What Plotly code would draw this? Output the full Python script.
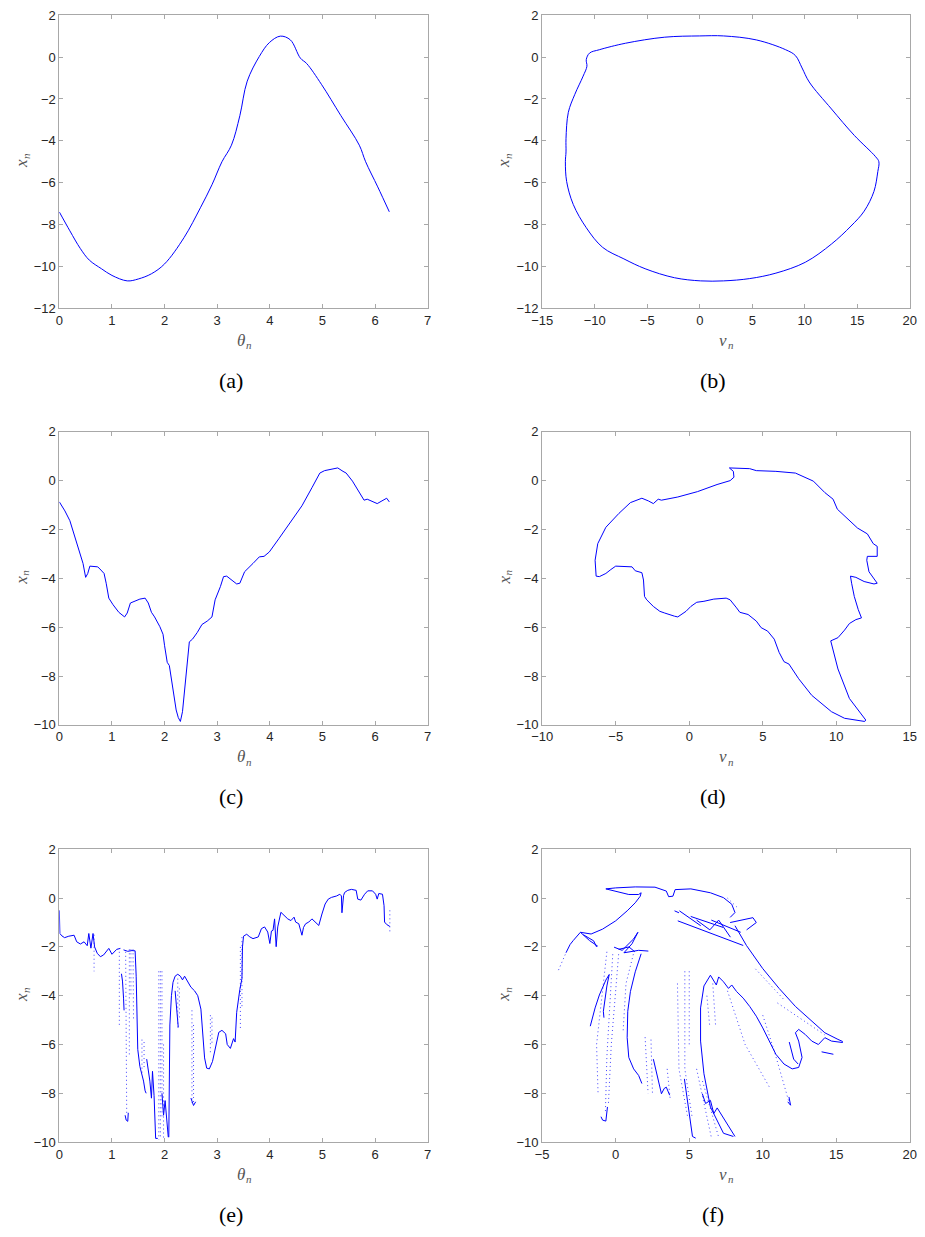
import plotly.graph_objects as go

# ---------------- data ----------------
# (a) x_n vs theta_n
theta_a = [0, 0.2, 0.4, 0.57, 0.8, 1.0, 1.29, 1.5, 1.75, 2.0, 2.37, 2.68, 2.9, 3.09, 3.27,
           3.43, 3.57, 3.8, 3.99, 4.2, 4.39, 4.58, 4.70, 4.98, 5.35, 5.70, 5.82, 6.05, 6.27]
x_a = [-7.4, -8.3, -9.15, -9.7, -10.11, -10.43, -10.69, -10.6, -10.35, -9.88, -8.62, -7.2, -6.1,
       -5.0, -4.21, -2.8, -1.15, 0.03, 0.69, 1.0, 0.82, -0.05, -0.31, -1.3, -2.8, -4.21, -5.0, -6.2, -7.39]

# (b) x_n vs v_n
v_b = [-10.49, -10.8, -10.74, -11.1, -11.89, -12.51, -12.73, -12.73, -12.79, -12.67, -12.04, -10.8,
       -9.24, -7.22, -5.2, -2.4, 0.09, 2.27, 4.76, 7.25, 10.05, 12.54, 14.4, 15.65, 16.58, 16.95,
       17.05, 16.74, 14.71, 12.54, 10.42, 9.74, 9.11, 8.18, 5.38, 2.27, 0.0, -3.33, -7.07, -9.56, -10.49]
x_b = [0.19, -0.12, -0.44, -0.91, -1.78, -2.64, -3.9, -4.53, -5.0, -5.94, -7.04, -8.15, -9.09, -9.64,
       -10.11, -10.54, -10.69, -10.69, -10.58, -10.32, -9.8, -8.93, -8.07, -7.36, -6.42, -5.47, -5.0,
       -4.76, -3.74, -2.48, -1.19, -0.52, 0.07, 0.35, 0.82, 1.01, 1.01, 0.95, 0.66, 0.35, 0.19]

# (c) x_n vs theta_n
theta_c = [0, 0.106, 0.2, 0.32, 0.45, 0.5, 0.54, 0.58, 0.66, 0.73, 0.79, 0.85, 0.89, 0.94, 1.02, 1.13,
           1.24, 1.29, 1.35, 1.44, 1.53, 1.63, 1.69, 1.75, 1.81, 1.91, 1.97, 2.0, 2.05, 2.09, 2.16, 2.22,
           2.26, 2.30, 2.34, 2.39, 2.43, 2.47, 2.53, 2.62, 2.71, 2.81, 2.9, 2.96, 3.06, 3.12, 3.18, 3.27,
           3.37, 3.43, 3.52, 3.68, 3.8, 3.89, 3.99, 4.17, 4.36, 4.61, 4.8, 4.95, 5.04, 5.17, 5.29, 5.39,
           5.45, 5.57, 5.7, 5.79, 5.85, 5.94, 6.04, 6.13, 6.22, 6.27]
x_c = [-0.87, -1.24, -1.64, -2.45, -3.39, -3.96, -3.8, -3.5, -3.53, -3.53, -3.66, -3.8, -4.2, -4.81,
       -5.08, -5.39, -5.58, -5.42, -5.01, -4.94, -4.85, -4.81, -5.01, -5.39, -5.58, -5.98, -6.29, -6.76,
       -7.44, -7.57, -8.52, -9.39, -9.7, -9.86, -9.46, -8.38, -7.3, -6.6, -6.49, -6.22, -5.89, -5.75,
       -5.58, -4.88, -4.34, -3.93, -3.91, -4.07, -4.23, -4.2, -3.73, -3.39, -3.12, -3.1, -2.92, -2.38,
       -1.78, -1.03, -0.29, 0.31, 0.41, 0.48, 0.52, 0.38, 0.31, -0.02, -0.49, -0.8, -0.76, -0.83, -0.94,
       -0.83, -0.72, -0.87]

# (d) x_n vs v_n
v_d = [2.73, 3.11, 4.11, 4.56, 5.89, 7.22, 8.44, 9.22, 9.78, 10.07, 10.78, 11.44, 12.11, 12.51, 12.78,
       12.78, 12.11, 12.07, 12.22, 12.44, 12.78, 12.56, 11.89, 11.33, 10.96, 11.04, 11.22, 11.49, 11.71,
       11.33, 10.89, 10.56, 10.11, 9.62, 10.11, 10.89, 12.0, 11.93, 10.56, 9.67, 8.33, 7.44, 6.78, 6.44,
       6.11, 5.78, 5.33, 4.89, 4.56, 4.0, 3.44, 3.22, 2.78, 2.51, 1.67, 1.0, 0.51, 0.11, -0.22, -0.78,
       -1.0, -1.67, -2.0, -2.44, -2.89, -3.04, -3.11, -3.22, -3.67, -3.89, -4.78, -5.0, -5.33, -5.67,
       -6.11, -6.33, -6.4, -6.22, -5.67, -4.78, -4.0, -3.22, -2.78, -2.44, -2.11, -1.89, -0.78, 0.56,
       1.89, 2.78, 3.04, 3.0, 2.73]
x_d = [0.52, 0.52, 0.49, 0.41, 0.38, 0.31, -0.02, -0.49, -0.76, -1.17, -1.57, -1.94, -2.18, -2.58,
       -2.69, -3.1, -3.1, -3.26, -3.73, -3.93, -4.2, -4.23, -4.13, -3.96, -3.91, -4.2, -4.74, -5.28,
       -5.62, -5.69, -5.85, -6.12, -6.43, -6.56, -7.71, -8.92, -9.8, -9.86, -9.73, -9.46, -8.79, -8.11,
       -7.51, -7.41, -7.03, -6.49, -6.16, -6.02, -5.75, -5.48, -5.39, -5.21, -4.88, -4.81, -4.85, -4.94,
       -4.98, -5.15, -5.35, -5.58, -5.55, -5.42, -5.35, -5.15, -4.88, -4.74, -4.07, -3.77, -3.69, -3.53,
       -3.53, -3.5, -3.64, -3.8, -3.93, -3.91, -3.26, -2.58, -1.91, -1.34, -0.9, -0.72, -0.83, -0.94,
       -0.76, -0.8, -0.67, -0.45, -0.16, 0.0, 0.14, 0.38, 0.52]

# (e) dense parts of the scattered set (None separates pieces)
theta_e = [0, 0.01, 0.05, 0.1, 0.18, 0.28, 0.33, 0.40, 0.47, 0.53, 0.56, 0.60, 0.64, 0.67, 0.72, 0.78,
           0.84, 0.9, 0.94, 1.0, 1.04, 1.09, 1.16, None,
           1.22, 1.3, 1.38, 1.44, 1.46, 1.47, 1.49, 1.53, 1.57, 1.6, 1.63, 1.65, None,
           1.66, 1.69, 1.72, 1.75, 1.77, 1.8, 1.82, 1.83, 1.87, None,
           1.18, 1.2, 1.22, 1.23, None,
           1.25, 1.27, 1.3, 1.31, None,
           2.08, 2.09, 2.1, 2.13, 2.16, 2.2, 2.25, 2.3, 2.34, 2.38, 2.44, 2.5, 2.57, 2.63, 2.69, 2.72, 2.76,
           2.8, 2.85, 2.91, 2.97, 3.03, 3.09, 3.16, 3.19, 3.25, 3.31, 3.34, 3.37, 3.40, 3.43, 3.47, 3.48,
           3.5, 3.56, 3.62, 3.68, 3.78, 3.84, 3.9, 3.96, 4.0, 4.03, 4.06, 4.09, 4.12, 4.15, 4.21, 4.27,
           4.34, 4.4, 4.46, 4.49, 4.55, 4.61, 4.64, 4.68, 4.74, 4.8, 4.86, 4.93, 4.99, 5.05, 5.11, 5.17,
           5.27, 5.33, 5.36, 5.37, 5.4, 5.42, 5.48, 5.55, 5.64, 5.67, 5.73, 5.8, 5.86, 5.95, 6.01, 6.04,
           6.07, 6.14, 6.17, 6.18, 6.22, 6.28, None,
           2.2, 2.22, 2.26, None,
           2.5, 2.55, 2.59, None,
           1.95, 1.98, 2.01, 2.04, 2.07]
x_e = [-0.5, -1.45, -1.55, -1.62, -1.56, -1.52, -1.79, -1.88, -1.79, -1.95, -1.45, -2.05, -1.45, -2.0,
       -2.26, -2.40, -2.33, -2.15, -2.06, -2.3, -2.2, -2.1, -2.06, None,
       -2.12, -2.18, -2.15, -2.16, -3.2, -4.6, -6.2, -6.9, -7.2, -7.5, -7.9, -8.0, None,
       -6.6, -7.0, -7.5, -8.2, -7.1, -8.1, -9.2, -9.85, -9.85, None,
       -3.1, -3.4, -4.1, -4.6, None,
       -8.9, -9.1, -9.15, -8.8, None,
       -9.8, -8.0, -5.2, -4.0, -3.45, -3.2, -3.12, -3.2, -3.35, -3.2, -3.4, -3.65, -3.8, -4.0, -4.55,
       -5.5, -6.55, -6.97, -7.0, -6.7, -6.1, -5.5, -5.42, -5.56, -6.0, -6.16, -5.76, -5.9, -4.68, -4.15,
       -3.74, -3.3, -2.0, -1.56, -1.48, -1.59, -1.66, -1.59, -1.25, -1.18, -1.39, -1.86, -1.35, -1.32,
       -0.85, -1.99, -1.18, -0.58, -0.71, -0.85, -0.92, -0.78, -0.98, -1.05, -1.52, -1.2, -1.05, -0.98,
       -0.85, -0.98, -1.12, -0.65, -0.24, -0.04, 0.03, 0.09, 0.16, 0.09, -0.6, 0.1, 0.23, 0.32, 0.36,
       0.32, -0.04, -0.08, 0.16, 0.3, 0.3, 0.16, -0.04, 0.19, 0.16, -0.31, -0.98, -1.08, -1.16, None,
       -3.8, -4.3, -5.3, None,
       -8.2, -8.5, -8.35, None,
       -8.0, -8.9, -8.3, -9.0, -9.8]

# (e) sparse streaks of points
theta_e_sp = [0.66, 0.66, None, 1.14, 1.14, None, 1.26, 1.28, None, 1.33, 1.33, None, 1.36, 1.36, None,
              1.40, 1.41, None, 1.57, 1.57, None, 1.61, 1.61, None, 1.89, 1.89, None, 1.92, 1.92, None,
              1.95, 1.95, None, 1.98, 1.98, None, 2.25, 2.25, None, 2.28, 2.28, None, 2.52, 2.52, None,
              2.55, 2.55, None, 2.87, 2.87, None, 2.9, 2.9, None, 3.44, 3.44, None, 3.47, 3.47, None,
              6.28, 6.28]
x_e_sp = [-1.5, -3.0, None, -2.2, -5.3, None, -2.2, -8.8, None, -2.1, -6.5, None, -2.1, -4.0, None,
          -2.1, -5.0, None, -5.8, -7.2, None, -5.9, -7.0, None, -3.0, -9.9, None, -3.0, -9.8, None,
          -3.0, -9.0, None, -6.0, -9.9, None, -3.3, -5.3, None, -3.7, -5.0, None, -4.6, -8.4, None,
          -5.2, -8.4, None, -4.8, -6.4, None, -4.9, -6.0, None, -2.0, -5.4, None, -1.6, -4.5, None,
          -0.5, -1.4]

# (f) dense parts of the scattered set
v_f = [-3.38, -3.1, -2.89, -2.4, -1.67, -0.89, 0.0, 0.78, 1.33, 1.67, 1.73, 1.56, 0.89, 0.44, -0.11,
       -0.67, 0.0, 1.33, 2.67, 3.44, 3.6, 3.89, 4.04, 5.11, 6.44, 7.33, 7.89, 8.11, 7.78, None,
       -2.4, -1.78, -1.22, None, -2.2, -1.5, -1.3, None,
       -0.11, 0.44, 1.22, 1.51, 1.11, 0.56, 1.56, 2.22, None, 0.2, 0.9, 1.3, None,
       -1.73, -1.4, -1.11, -0.67, -0.44, -0.6, -0.84, -0.8, None,
       -1.0, -0.89, -0.67, -0.56, None,
       1.73, 1.33, 1.0, 0.82, 0.78, 0.89, 1.22, 1.56, 1.78, None,
       2.56, 2.78, 3.11, 3.3, 3.44, 3.67, None,
       4.67, 4.89, 5.11, 5.22, 5.44, None,
       5.89, 6.11, 6.44, 6.67, 6.9, 7.3, 8.11, None,
       6.44, 6.0, 5.77, 5.77, 6.0, 6.44, 7.33, 8.0, None,
       6.44, 6.67, 6.84, 7.0, 7.33, 7.67, 7.89, 8.22, 8.67, 9.11, 9.56, 10.0, 10.44, 10.89, 11.44, 12.0,
       12.44, 12.67, 12.44, 12.22, 12.44, 12.89, 13.33, 13.78, 14.22, 14.67, 15.44, None,
       8.11, 8.89, 10.0, 11.11, 12.22, 13.33, 14.22, 15.11, 15.44, None,
       4.22, 8.67, None, 4.33, 5.78, None, 5.1, 7.3, None, 6.5, 8.5, None,
       7.78, 9.33, 9.56, 8.9, None, 4.0, 4.3, None, 5.5, 6.4, 7.0, 7.8, None,
       11.78, 11.89, 11.7, None, 14.0, 14.8, None, 11.8, 12.1, 12.4]
x_f = [-2.24, -1.9, -1.74, -1.4, -1.47, -1.27, -0.93, -0.52, -0.19, 0.08, 0.22, 0.15, 0.15, 0.22, 0.31,
       0.38, 0.42, 0.46, 0.45, 0.29, 0.06, 0.08, 0.35, 0.38, 0.22, 0.02, -0.25, -0.59, -0.79, None,
       -1.4, -1.74, -1.97, None, -1.5, -1.75, -2.0, None,
       -2.01, -2.14, -1.67, -1.4, -1.87, -2.24, -2.14, -2.17, None, -2.1, -2.0, -2.2, None,
       -5.25, -4.5, -3.97, -3.36, -3.13, -3.6, -4.64, -4.9, None,
       -8.96, -9.1, -9.14, -8.56, None,
       -2.28, -3.02, -3.83, -4.64, -5.72, -6.53, -7.0, -7.27, -7.6, None,
       -6.6, -7.14, -8.02, -7.8, -7.75, -8.08, None,
       -7.41, -8.29, -9.23, -9.77, -9.84, None,
       -8.02, -8.42, -8.29, -8.83, -8.6, -9.0, -9.77, None,
       -3.16, -3.6, -4.5, -5.86, -7.2, -8.56, -9.64, -9.77, None,
       -3.16, -3.36, -3.56, -3.23, -3.43, -3.7, -3.56, -3.83, -4.1, -4.44, -4.84, -5.32, -5.86, -6.4,
       -6.8, -7.0, -6.94, -6.53, -5.86, -5.52, -5.38, -5.59, -5.86, -6.0, -5.72, -5.86, -5.92, None,
       -1.13, -1.94, -2.89, -3.7, -4.44, -5.05, -5.52, -5.79, -5.88, None,
       -0.93, -1.94, None, -0.52, -1.13, None, -0.75, -1.2, None, -0.9, -1.4, None,
       -1.0, -0.8, -1.0, -1.3, None, -0.52, -0.6, None, -0.9, -1.3, -0.9, -1.6, None,
       -8.15, -8.49, -8.35, None, -6.3, -6.4, None, -5.9, -6.6, -6.8]

# (f) sparse streaks of points
v_f_sp = [-3.89, -3.38, None, -0.6, -1.3, -1.2, None, -0.2, -0.6, -0.7, None, 0.2, -0.3, -0.5, None,
          1.2, 0.7, 0.5, None, 2.0, 2.2, None, 2.4, 2.5, None, 3.5, 3.7, None,
          4.2, 4.3, 4.9, None, 4.7, 4.7, 5.2, None, 5.0, 5.0, None, 5.5, 6.5, None, 5.9, 7.0, None,
          6.2, 6.4, None, 6.6, 6.8, None, 7.6, 8.8, 10.5, None, 10.0, 10.8, 11.8, None,
          11.0, 14.2, None, 9.5, 11.5, None, 7.6, 8.3]
x_f_sp = [-2.95, -2.24, None, -2.2, -6.0, -8.0, None, -2.3, -6.5, -8.8, None, -2.3, -6.0, -8.5, None,
          -2.3, -3.5, -5.5, None, -5.7, -8.0, None, -5.8, -8.0, None, -7.0, -8.2, None,
          -3.5, -7.0, -9.0, None, -3.0, -7.0, -9.0, None, -3.0, -6.0, None, -7.0, -9.8, None, -7.5, -9.8, None,
          -4.0, -5.3, None, -3.5, -5.3, None, -3.8, -6.0, -7.8, None, -4.8, -6.3, -8.4, None,
          -4.3, -5.6, None, -2.9, -4.2, None, 0.0, -0.4]

# axis settings per panel
x_ranges = [[0, 7], [-15, 20], [0, 7], [-10, 15], [0, 7], [-5, 20]]
x_dticks = [1, 5, 1, 5, 1, 5]
y_ranges = [[-12, 2], [-12, 2], [-10, 2], [-10, 2], [-10, 2], [-10, 2]]
x_titles = ["θ", "v", "θ", "v", "θ", "v"]
y_title = "x"
sub_label = "n"
captions = ["(a)", "(b)", "(c)", "(d)", "(e)", "(f)"]

# ---------------- figure ----------------
W, H = 925, 1237
col_px = [(49.3, 425.0), (541.7, 916.7)]
row_px = [(8.3, 305.0), (430.0, 726.7), (852.7, 1149.0)]
BLUE = "#0000ff"

fig = go.Figure()

def ax(i):
    return ("x" if i == 1 else f"x{i}"), ("y" if i == 1 else f"y{i}")

line_sets = [
    (theta_a, x_a, 1), (v_b, x_b, 2), (theta_c, x_c, 3), (v_d, x_d, 4),
    (theta_e, x_e, 5), (v_f, x_f, 6),
]
for xs, ys, i in line_sets:
    xa, ya = ax(i)
    shape = "spline" if i in (1, 2) else "linear"
    fig.add_trace(go.Scatter(x=xs, y=ys, mode="lines", xaxis=xa, yaxis=ya,
                             line=dict(color=BLUE, width=1.0, shape=shape),
                             connectgaps=False, hoverinfo="skip"))

for xs, ys, i in [(theta_e_sp, x_e_sp, 5), (v_f_sp, x_f_sp, 6)]:
    xa, ya = ax(i)
    fig.add_trace(go.Scatter(x=xs, y=ys, mode="lines", xaxis=xa, yaxis=ya,
                             line=dict(color="rgba(20,20,255,0.8)", width=1, dash="1px,3px"),
                             connectgaps=False, hoverinfo="skip"))

layout = dict(width=W, height=H, margin=dict(l=0, r=0, t=0, b=0),
              paper_bgcolor="white", plot_bgcolor="white", showlegend=False)
annotations = []
axis_common = dict(showline=True, mirror="ticks", ticks="inside", ticklen=4, tickwidth=1,
                   linecolor="#a8a8a8", tickcolor="#a8a8a8", linewidth=1,
                   showgrid=False, zeroline=False,
                   tickfont=dict(family="Liberation Sans, Arial", size=13, color="#262626"))
lab_font = dict(family="Liberation Serif, serif", size=17, color="#555555")
sub_font = dict(family="Liberation Serif, serif", size=11, color="#555555")
for i in range(1, 7):
    r, c = (i - 1) // 2, (i - 1) % 2
    x0, x1 = col_px[c]
    y0, y1 = row_px[r]
    xname = "xaxis" if i == 1 else f"xaxis{i}"
    yname = "yaxis" if i == 1 else f"yaxis{i}"
    xa, ya = ax(i)
    layout[xname] = dict(domain=[x0 / W, x1 / W], anchor=ya, range=x_ranges[i - 1],
                         dtick=x_dticks[i - 1], tick0=0, **axis_common)
    layout[yname] = dict(domain=[1 - y1 / H, 1 - y0 / H], anchor=xa, range=y_ranges[i - 1],
                         dtick=2, tick0=0, **axis_common)
    dom_x = xa + " domain"
    dom_y = ya + " domain"
    # x-axis title (italic letter + subscript n)
    annotations.append(dict(text=f"<i>{x_titles[i-1]}</i>", xref=dom_x, yref=dom_y,
                            x=0.5, y=0, xshift=-3, yshift=-32, showarrow=False,
                            xanchor="center", yanchor="middle", font=lab_font))
    annotations.append(dict(text=f"<i>{sub_label}</i>", xref=dom_x, yref=dom_y,
                            x=0.5, y=0, xshift=5, yshift=-37, showarrow=False,
                            xanchor="center", yanchor="middle", font=sub_font))
    # y-axis title, rotated
    annotations.append(dict(text=f"<i>{y_title}</i>", xref=dom_x, yref=dom_y,
                            x=0, y=0.5, xshift=-38, yshift=-2, showarrow=False, textangle=-90,
                            xanchor="center", yanchor="middle", font=lab_font))
    annotations.append(dict(text=f"<i>{sub_label}</i>", xref=dom_x, yref=dom_y,
                            x=0, y=0.5, xshift=-34, yshift=6, showarrow=False, textangle=-90,
                            xanchor="center", yanchor="middle", font=sub_font))
    annotations.append(dict(text=captions[i - 1], xref=dom_x, yref=dom_y,
                            x=0.5, y=0, xshift=-13, yshift=-72, showarrow=False,
                            xanchor="center", yanchor="middle",
                            font=dict(family="Liberation Serif, Times New Roman, serif", size=22,
                                      color="#000000")))
layout["annotations"] = annotations
fig.update_layout(**layout)
fig.write_html("out.html")
